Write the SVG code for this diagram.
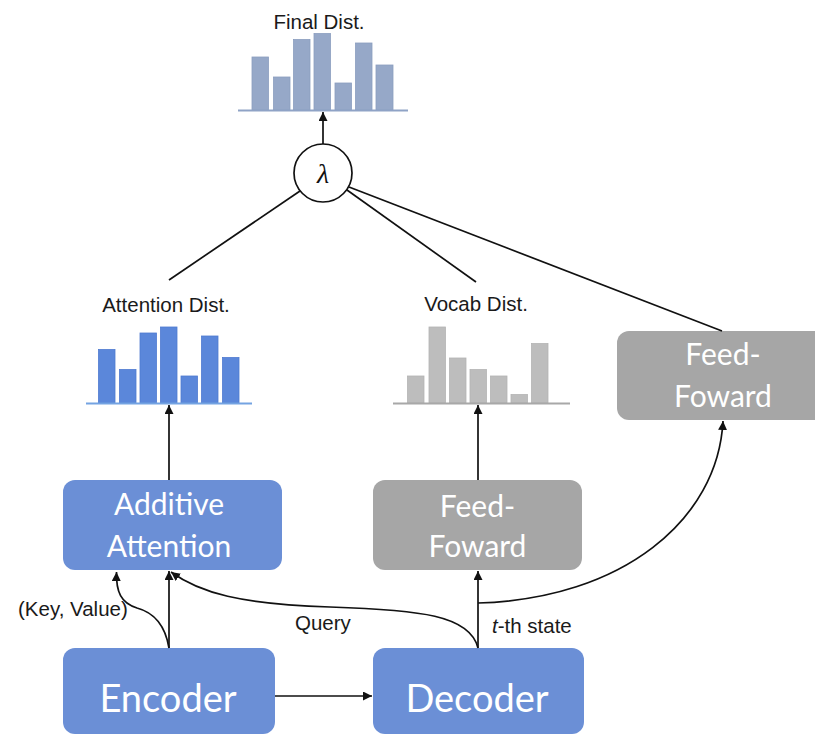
<svg xmlns="http://www.w3.org/2000/svg" width="815" height="736" viewBox="0 0 815 736">
  <style>
    .lbl { font-family: "Liberation Sans", Arial, sans-serif; font-size: 20.5px; fill: #1a1a1a; }
    .boxtxt { font-family: Lato, "Open Sans", sans-serif; fill: #ffffff; text-anchor: middle; }
    .blue { fill: #6b8fd6; }
    .grey { fill: #a6a6a6; }
    .edge { fill: none; stroke: #111; stroke-width: 1.7; }
    .bar-a { fill: #5b87da; stroke: #4f7bd0; stroke-width: 0.8; }
    .bar-v { fill: #bdbdbd; stroke: #b3b3b3; stroke-width: 0.8; }
    .bar-f { fill: #96a8c8; stroke: #8a9dbf; stroke-width: 0.8; }
  </style>
  <defs>
    <marker id="arrow" viewBox="0 0 10 10" refX="10" refY="5" markerWidth="9" markerHeight="9" markerUnits="userSpaceOnUse" orient="auto">
      <path d="M0,0 L10,5 L0,10 z" fill="#111"/>
    </marker>
  </defs>

  <rect width="815" height="736" fill="#ffffff"/>

  <!-- Final distribution -->
  <g id="final-dist">
    <text class="lbl" x="319" y="29" text-anchor="middle">Final Dist.</text>
    <rect class="bar-f" x="252" y="57" width="16.5" height="53"/>
    <rect class="bar-f" x="273.5" y="77" width="16.5" height="33"/>
    <rect class="bar-f" x="293.5" y="39.5" width="16.5" height="70.5"/>
    <rect class="bar-f" x="314" y="33.5" width="16.5" height="76.5"/>
    <rect class="bar-f" x="335" y="83" width="16.5" height="27"/>
    <rect class="bar-f" x="355.5" y="43" width="16.5" height="67"/>
    <rect class="bar-f" x="376" y="65" width="17" height="45"/>
    <line x1="238" y1="110.5" x2="408" y2="110.5" stroke="#8fa3c6" stroke-width="2"/>
  </g>

  <!-- Mixing weight -->
  <g id="lambda">
    <circle cx="323" cy="173" r="29" fill="#ffffff" stroke="#111" stroke-width="1.7"/>
    <text x="323" y="183" text-anchor="middle" font-family="Liberation Serif, serif" font-style="italic" font-size="28" fill="#111">λ</text>
  </g>

  <!-- Attention distribution -->
  <g id="attention-dist">
    <text class="lbl" x="166" y="312" text-anchor="middle">Attention Dist.</text>
    <rect class="bar-a" x="98.5" y="349.5" width="16.5" height="53.5"/>
    <rect class="bar-a" x="119.5" y="369.5" width="16.5" height="33.5"/>
    <rect class="bar-a" x="140" y="333" width="16.5" height="70"/>
    <rect class="bar-a" x="160.5" y="327" width="16.5" height="76"/>
    <rect class="bar-a" x="181" y="376" width="16.5" height="27"/>
    <rect class="bar-a" x="201.5" y="336" width="16.5" height="67"/>
    <rect class="bar-a" x="222.5" y="357.5" width="16.5" height="45.5"/>
    <line x1="86" y1="403.5" x2="252" y2="403.5" stroke="#74a3e2" stroke-width="2"/>
  </g>

  <!-- Vocabulary distribution -->
  <g id="vocab-dist">
    <text class="lbl" x="476" y="310.5" text-anchor="middle">Vocab Dist.</text>
    <rect class="bar-v" x="407.5" y="376" width="16.5" height="27"/>
    <rect class="bar-v" x="429" y="327" width="16.5" height="76"/>
    <rect class="bar-v" x="449.5" y="358" width="16.5" height="45"/>
    <rect class="bar-v" x="470" y="369.5" width="16.5" height="33.5"/>
    <rect class="bar-v" x="490.5" y="376" width="16.5" height="27"/>
    <rect class="bar-v" x="511" y="394.5" width="16.5" height="8.5"/>
    <rect class="bar-v" x="531.5" y="343.5" width="16.5" height="59.5"/>
    <line x1="393" y1="403.5" x2="570" y2="403.5" stroke="#a8a8a8" stroke-width="2"/>
  </g>

  <!-- Blocks -->
  <g id="additive-attention">
    <rect class="blue" x="63" y="480" width="219" height="90" rx="12"/>
    <text class="boxtxt" x="169" y="515" font-size="30">Additive</text>
    <text class="boxtxt" x="169" y="557" font-size="30">Attention</text>
  </g>

  <g id="feed-forward-vocab">
    <rect class="grey" x="373" y="480" width="209" height="90" rx="12"/>
    <text class="boxtxt" x="477.5" y="517" font-size="30">Feed-</text>
    <text class="boxtxt" x="477.5" y="557" font-size="30">Foward</text>
  </g>

  <g id="feed-forward-gate">
    <rect class="grey" x="617" y="331" width="212" height="89" rx="12"/>
    <text class="boxtxt" x="723" y="365" font-size="30">Feed-</text>
    <text class="boxtxt" x="723" y="407" font-size="30">Foward</text>
  </g>

  <g id="encoder">
    <rect class="blue" x="63" y="648" width="212" height="86" rx="12"/>
    <text class="boxtxt" x="168" y="712" font-size="38">Encoder</text>
  </g>

  <g id="decoder">
    <rect class="blue" x="373" y="648" width="211" height="86" rx="12"/>
    <text class="boxtxt" x="477" y="712" font-size="38">Decoder</text>
  </g>

  <!-- Connectors -->
  <g id="connectors">
    <line class="edge" x1="323" y1="144" x2="323" y2="112" marker-end="url(#arrow)"/>
    <line class="edge" x1="300" y1="191" x2="169" y2="280"/>
    <line class="edge" x1="347" y1="190" x2="476" y2="282"/>
    <line class="edge" x1="349" y1="187" x2="722" y2="331"/>

    <line class="edge" x1="169" y1="480" x2="169" y2="405" marker-end="url(#arrow)"/>
    <line class="edge" x1="478" y1="480" x2="478" y2="405" marker-end="url(#arrow)"/>

    <line class="edge" x1="169" y1="648" x2="169" y2="571" marker-end="url(#arrow)"/>
    <path class="edge" d="M169,648 C165,624 152,612 137,608 C121,603 116,592 116.5,572" marker-end="url(#arrow)"/>
    <path class="edge" d="M478,648 C470,615 420,610 330,607 C240,604 200,593 171,572" marker-end="url(#arrow)"/>

    <line class="edge" x1="478" y1="648" x2="478" y2="571" marker-end="url(#arrow)"/>
    <path class="edge" d="M478,603 C622,599 718,520 723,421" marker-end="url(#arrow)"/>

    <line class="edge" x1="275" y1="696" x2="372" y2="696" marker-end="url(#arrow)"/>
  </g>

  <!-- Edge labels -->
  <g id="edge-labels">
    <text class="lbl" x="18" y="616">(Key, Value)</text>
    <text class="lbl" x="295" y="630">Query</text>
    <text class="lbl" x="492" y="633"><tspan font-style="italic">t</tspan>-th state</text>
  </g>
</svg>
